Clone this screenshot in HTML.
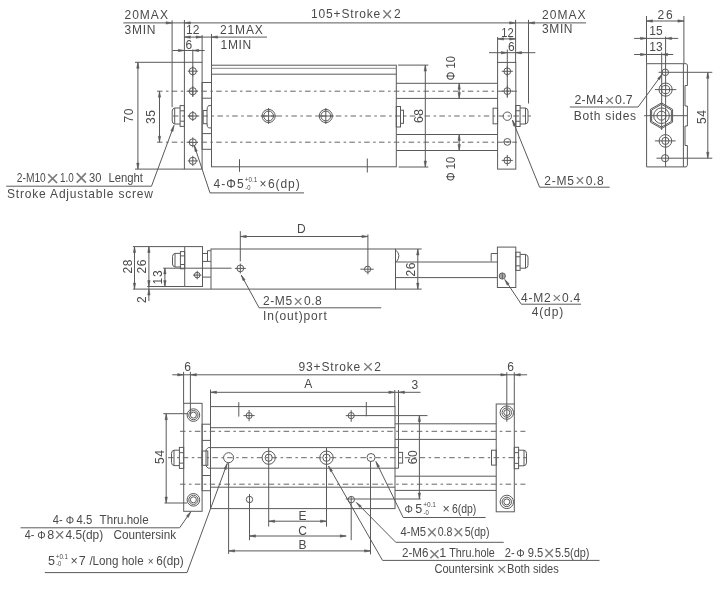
<!DOCTYPE html>
<html><head><meta charset="utf-8"><title>Drawing</title>
<style>
html,body{margin:0;padding:0;background:#fff;}
svg{display:block;will-change:transform;}
svg text{font-family:"Liberation Sans",sans-serif;}
</style></head><body>
<svg width="727" height="606" viewBox="0 0 727 606">
<rect x="0" y="0" width="727" height="606" fill="#ffffff"/>
<g fill="none" stroke="#5a5a5a" stroke-width="1">
<rect x="184.4" y="62.3" width="17.7" height="106.8"/>
<rect x="211.5" y="65.2" width="184.8" height="101.6"/>
<line x1="211.5" y1="68.3" x2="396.3" y2="68.3" stroke="#8a8a8a"/>
<line x1="211.5" y1="74.2" x2="396.3" y2="74.2"/>
<rect x="202.1" y="82.5" width="9.4" height="66.8"/>
<line x1="202.1" y1="98.2" x2="211.5" y2="98.2"/>
<line x1="202.1" y1="133.6" x2="211.5" y2="133.6"/>
<rect x="203.2" y="110.5" width="3.8" height="13.2"/>
<path d="M211.5 105.6 L208.5 105.6 Q207 107 207 110.5 M207 123.7 Q207 127 208.5 127.9 L211.5 127.9"/>
<rect x="180.1" y="105.6" width="4.3" height="20.8"/>
<line x1="180.1" y1="110.8" x2="184.4" y2="110.8"/>
<line x1="180.1" y1="121.2" x2="184.4" y2="121.2"/>
<path d="M180.1 108 L174.7 108"/>
<path d="M180.1 124 L174.7 124"/>
<line x1="174.7" y1="108" x2="174.7" y2="124"/>
<path d="M174.7 108 Q172.2 108.5 172.2 111 L172.2 121 Q172.2 123.5 174.7 124"/>
<circle cx="192.8" cy="71.2" r="3.6"/>
<line x1="187.8" y1="71.2" x2="197.8" y2="71.2"/>
<line x1="192.8" y1="66.2" x2="192.8" y2="76.2"/>
<circle cx="192.8" cy="91.2" r="3.6"/>
<line x1="187.8" y1="91.2" x2="197.8" y2="91.2"/>
<line x1="192.8" y1="86.2" x2="192.8" y2="96.2"/>
<circle cx="192.8" cy="116" r="3.6"/>
<line x1="187.8" y1="116" x2="197.8" y2="116"/>
<line x1="192.8" y1="111" x2="192.8" y2="121"/>
<circle cx="192.8" cy="142.4" r="3.6"/>
<line x1="187.8" y1="142.4" x2="197.8" y2="142.4"/>
<line x1="192.8" y1="137.4" x2="192.8" y2="147.4"/>
<circle cx="192.8" cy="160.9" r="3.6"/>
<line x1="187.8" y1="160.9" x2="197.8" y2="160.9"/>
<line x1="192.8" y1="155.9" x2="192.8" y2="165.9"/>
<line x1="192.8" y1="49.5" x2="192.8" y2="97"/>
<line x1="157" y1="91.2" x2="517" y2="91.2" stroke="#666666" stroke-dasharray="5.5 3.5 2.5 3.3"/>
<line x1="173" y1="116" x2="531" y2="116" stroke="#666666" stroke-dasharray="5.5 3.5 2.5 3.3"/>
<line x1="157" y1="142.2" x2="517" y2="142.2" stroke="#666666" stroke-dasharray="5.5 3.5 2.5 3.3"/>
<circle cx="268.6" cy="116" r="6.6"/>
<circle cx="268.6" cy="116" r="4.9"/>
<line x1="260.6" y1="116" x2="276.6" y2="116"/>
<line x1="268.6" y1="108" x2="268.6" y2="124"/>
<circle cx="325.8" cy="116" r="6.6"/>
<circle cx="325.8" cy="116" r="4.9"/>
<line x1="317.8" y1="116" x2="333.8" y2="116"/>
<line x1="325.8" y1="108" x2="325.8" y2="124"/>
<line x1="239.5" y1="159.2" x2="239.5" y2="171.8"/>
<line x1="367.3" y1="158.5" x2="367.3" y2="172.5"/>
<line x1="396.3" y1="83.3" x2="497.6" y2="83.3"/>
<line x1="396.3" y1="98.4" x2="497.6" y2="98.4"/>
<line x1="396.3" y1="134.5" x2="497.6" y2="134.5"/>
<line x1="396.3" y1="150.5" x2="497.6" y2="150.5"/>
<rect x="396.3" y="106.5" width="4.2" height="20.5"/>
<rect x="400.5" y="110.2" width="3" height="13.1"/>
<rect x="497.6" y="62.4" width="18.2" height="106.7"/>
<rect x="493.1" y="108.2" width="4.5" height="15.6"/>
<rect x="515.8" y="105.5" width="4.3" height="21"/>
<line x1="515.8" y1="110.75" x2="520.1" y2="110.75"/>
<line x1="515.8" y1="121.25" x2="520.1" y2="121.25"/>
<path d="M520.1 108 L525.5 108"/>
<path d="M520.1 124 L525.5 124"/>
<line x1="525.5" y1="108" x2="525.5" y2="124"/>
<path d="M525.5 108 Q528 108.5 528 111 L528 121 Q528 123.5 525.5 124"/>
<circle cx="507.3" cy="71.3" r="3.4"/>
<line x1="501.8" y1="71.3" x2="512.8" y2="71.3"/>
<line x1="507.3" y1="65.8" x2="507.3" y2="76.8"/>
<circle cx="507.3" cy="91.1" r="3.4"/>
<line x1="501.8" y1="91.1" x2="512.8" y2="91.1"/>
<line x1="507.3" y1="85.6" x2="507.3" y2="96.6"/>
<circle cx="507.3" cy="116.2" r="4.2"/>
<circle cx="507.3" cy="141.9" r="3.4"/>
<line x1="503.3" y1="141.9" x2="511.3" y2="141.9"/>
<circle cx="507.3" cy="160.4" r="3.4"/>
<line x1="501.8" y1="160.4" x2="512.8" y2="160.4"/>
<line x1="507.3" y1="154.9" x2="507.3" y2="165.9"/>
<line x1="507.3" y1="49.5" x2="507.3" y2="97.8"/>
<line x1="398" y1="65.1" x2="428.3" y2="65.1"/>
<line x1="398.6" y1="167" x2="428.3" y2="167"/>
<line x1="425.3" y1="65.1" x2="425.3" y2="167"/>
<path d="M425.3 65.1 L426.5 71.1 L424.1 71.1Z" fill="#5a5a5a" stroke-width="0.5"/>
<path d="M425.3 167 L424.1 161 L426.5 161Z" fill="#5a5a5a" stroke-width="0.5"/>
<line x1="459.2" y1="83.3" x2="459.2" y2="98.4"/>
<path d="M459.2 83.3 L460.4 89.3 L458 89.3Z" fill="#5a5a5a" stroke-width="0.5"/>
<path d="M459.2 98.4 L458 92.4 L460.4 92.4Z" fill="#5a5a5a" stroke-width="0.5"/>
<line x1="459.2" y1="134.5" x2="459.2" y2="150.5"/>
<path d="M459.2 134.5 L460.4 140.5 L458 140.5Z" fill="#5a5a5a" stroke-width="0.5"/>
<path d="M459.2 150.5 L458 144.5 L460.4 144.5Z" fill="#5a5a5a" stroke-width="0.5"/>
<line x1="123.3" y1="22.9" x2="586" y2="22.9"/>
<path d="M172.1 22.9 L166.1 24.1 L166.1 21.7Z" fill="#5a5a5a" stroke-width="0.5"/>
<path d="M184.4 22.9 L190.4 21.7 L190.4 24.1Z" fill="#5a5a5a" stroke-width="0.5"/>
<path d="M515.6 22.9 L509.6 24.1 L509.6 21.7Z" fill="#5a5a5a" stroke-width="0.5"/>
<path d="M528.5 22.9 L534.5 21.7 L534.5 24.1Z" fill="#5a5a5a" stroke-width="0.5"/>
<line x1="172.1" y1="20.3" x2="172.1" y2="107.2"/>
<line x1="184.4" y1="20" x2="184.4" y2="62.3"/>
<line x1="515.6" y1="19.8" x2="515.6" y2="62.4"/>
<line x1="528.5" y1="19.8" x2="528.5" y2="103.5"/>
<line x1="184.4" y1="37.1" x2="267" y2="37.1"/>
<path d="M184.4 37.1 L190.4 35.9 L190.4 38.3Z" fill="#5a5a5a" stroke-width="0.5"/>
<path d="M202.1 37.1 L196.1 38.3 L196.1 35.9Z" fill="#5a5a5a" stroke-width="0.5"/>
<path d="M211.5 37.1 L217.5 35.9 L217.5 38.3Z" fill="#5a5a5a" stroke-width="0.5"/>
<line x1="202.1" y1="35" x2="202.1" y2="62.3"/>
<line x1="211.5" y1="34" x2="211.5" y2="65.2"/>
<line x1="172.6" y1="50.5" x2="204.6" y2="50.5"/>
<path d="M184.4 50.5 L178.4 51.7 L178.4 49.3Z" fill="#5a5a5a" stroke-width="0.5"/>
<path d="M192.8 50.5 L198.8 49.3 L198.8 51.7Z" fill="#5a5a5a" stroke-width="0.5"/>
<line x1="497.6" y1="38.9" x2="515.6" y2="38.9"/>
<path d="M497.6 38.9 L503.6 37.7 L503.6 40.1Z" fill="#5a5a5a" stroke-width="0.5"/>
<path d="M515.6 38.9 L509.6 40.1 L509.6 37.7Z" fill="#5a5a5a" stroke-width="0.5"/>
<line x1="497.6" y1="37" x2="497.6" y2="62.4"/>
<line x1="489" y1="52.7" x2="535.4" y2="52.7"/>
<path d="M507.3 52.7 L501.3 53.9 L501.3 51.5Z" fill="#5a5a5a" stroke-width="0.5"/>
<path d="M515.6 52.7 L521.6 51.5 L521.6 53.9Z" fill="#5a5a5a" stroke-width="0.5"/>
<line x1="135" y1="62.3" x2="184.4" y2="62.3"/>
<line x1="135" y1="169.1" x2="184.4" y2="169.1"/>
<line x1="137.9" y1="62.3" x2="137.9" y2="169.1"/>
<path d="M137.9 62.3 L139.1 68.3 L136.7 68.3Z" fill="#5a5a5a" stroke-width="0.5"/>
<path d="M137.9 169.1 L136.7 163.1 L139.1 163.1Z" fill="#5a5a5a" stroke-width="0.5"/>
<line x1="159.5" y1="91.2" x2="159.5" y2="142.2"/>
<path d="M159.5 91.2 L160.7 97.2 L158.3 97.2Z" fill="#5a5a5a" stroke-width="0.5"/>
<path d="M159.5 142.2 L158.3 136.2 L160.7 136.2Z" fill="#5a5a5a" stroke-width="0.5"/>
<line x1="512.4" y1="120" x2="539.6" y2="187.2"/>
<line x1="539.6" y1="187.2" x2="609.7" y2="187.2"/>
<path d="M512.4 120 L515.76 125.11 L513.54 126.01Z" fill="#5a5a5a" stroke-width="0.5"/>
<line x1="194.3" y1="145.6" x2="210" y2="192.9"/>
<line x1="210" y1="192.9" x2="304" y2="192.9"/>
<path d="M194.3 145.6 L197.33 150.92 L195.05 151.67Z" fill="#5a5a5a" stroke-width="0.5"/>
<line x1="174" y1="125.4" x2="151.5" y2="186.2"/>
<line x1="151.5" y1="186.2" x2="6.2" y2="186.2"/>
<path d="M174 125.4 L173.04 131.44 L170.79 130.61Z" fill="#5a5a5a" stroke-width="0.5"/>
<path d="M683.4 63.7 L646.6 63.7 L646.6 166.9 L686.4 166.9"/>
<line x1="683.4" y1="63.7" x2="683.4" y2="166.9"/>
<path d="M683.4 63.7 L686.4 63.7 L687.4 65 L687.4 85.5 L685 85.5 L685 106 L687.4 106 L687.4 126 L685 126 L685 145.5 L687.4 145.5 L687.4 165.3 L686.4 166.9"/>
<line x1="646.5" y1="21" x2="683.9" y2="21"/>
<path d="M646.5 21 L652.5 19.8 L652.5 22.2Z" fill="#5a5a5a" stroke-width="0.5"/>
<path d="M683.9 21 L677.9 22.2 L677.9 19.8Z" fill="#5a5a5a" stroke-width="0.5"/>
<line x1="646.5" y1="16" x2="646.5" y2="63.7"/>
<line x1="683.9" y1="16" x2="683.9" y2="63.7"/>
<line x1="634.1" y1="38.4" x2="678.2" y2="38.4"/>
<path d="M646.5 38.4 L640.5 39.6 L640.5 37.2Z" fill="#5a5a5a" stroke-width="0.5"/>
<path d="M665.6 38.4 L671.6 37.2 L671.6 39.6Z" fill="#5a5a5a" stroke-width="0.5"/>
<line x1="665.6" y1="36.6" x2="665.6" y2="166.9"/>
<line x1="634.1" y1="54.5" x2="673.2" y2="54.5"/>
<path d="M646.5 54.5 L640.5 55.7 L640.5 53.3Z" fill="#5a5a5a" stroke-width="0.5"/>
<path d="M661.7 54.5 L667.7 53.3 L667.7 55.7Z" fill="#5a5a5a" stroke-width="0.5"/>
<line x1="661.7" y1="52.5" x2="661.7" y2="130"/>
<circle cx="665.3" cy="72.3" r="3.3"/>
<circle cx="665.6" cy="89.6" r="6.6"/>
<circle cx="665.6" cy="89.6" r="4.1"/>
<line x1="654.9" y1="89.6" x2="676.3" y2="89.6"/>
<path d="M661.5 102.9 L672.59 109.3 L672.59 122.1 L661.5 128.5 L650.41 122.1 L650.41 109.3Z"/>
<path d="M661.5 104.3 L671.37 110 L671.37 121.4 L661.5 127.1 L651.63 121.4 L651.63 110Z"/>
<circle cx="661.5" cy="115.7" r="7.8"/>
<circle cx="661.5" cy="115.7" r="4.5"/>
<line x1="644.1" y1="115.7" x2="687.4" y2="115.7"/>
<circle cx="665.4" cy="140.9" r="6.3"/>
<circle cx="665.4" cy="140.9" r="3.6"/>
<line x1="654.9" y1="140.9" x2="675.6" y2="140.9"/>
<circle cx="665.1" cy="158.2" r="3.6"/>
<line x1="658.5" y1="72.3" x2="712.3" y2="72.3"/>
<line x1="656.5" y1="158.2" x2="712.3" y2="158.2"/>
<line x1="707.8" y1="72.3" x2="707.8" y2="158.2"/>
<path d="M707.8 72.3 L709 78.3 L706.6 78.3Z" fill="#5a5a5a" stroke-width="0.5"/>
<path d="M707.8 158.2 L706.6 152.2 L709 152.2Z" fill="#5a5a5a" stroke-width="0.5"/>
<line x1="662.1" y1="74.3" x2="638.1" y2="107"/>
<line x1="638.1" y1="107" x2="569.8" y2="107"/>
<path d="M662.1 74.3 L659.52 79.85 L657.58 78.43Z" fill="#5a5a5a" stroke-width="0.5"/>
<line x1="132.9" y1="246.6" x2="184.7" y2="246.6"/>
<rect x="184.7" y="246.6" width="17.8" height="39.9"/>
<line x1="134.5" y1="246.6" x2="134.5" y2="289.1"/>
<path d="M134.5 246.6 L135.7 252.6 L133.3 252.6Z" fill="#5a5a5a" stroke-width="0.5"/>
<path d="M134.5 289.1 L133.3 283.1 L135.7 283.1Z" fill="#5a5a5a" stroke-width="0.5"/>
<line x1="148.9" y1="246.6" x2="148.9" y2="301"/>
<path d="M148.9 246.6 L150.1 252.6 L147.7 252.6Z" fill="#5a5a5a" stroke-width="0.5"/>
<path d="M148.9 286.5 L147.7 280.5 L150.1 280.5Z" fill="#5a5a5a" stroke-width="0.5"/>
<path d="M148.9 289.1 L150.1 295.1 L147.7 295.1Z" fill="#5a5a5a" stroke-width="0.5"/>
<line x1="164.9" y1="268" x2="164.9" y2="286.5"/>
<path d="M164.9 268 L166.1 274 L163.7 274Z" fill="#5a5a5a" stroke-width="0.5"/>
<path d="M164.9 286.5 L163.7 280.5 L166.1 280.5Z" fill="#5a5a5a" stroke-width="0.5"/>
<line x1="163.2" y1="268.2" x2="231.5" y2="268.2"/>
<line x1="147.2" y1="286.5" x2="184.7" y2="286.5"/>
<line x1="132.9" y1="289.1" x2="210.8" y2="289.1"/>
<rect x="180.4" y="251.6" width="4.3" height="17.2"/>
<line x1="180.4" y1="255.9" x2="184.7" y2="255.9"/>
<line x1="180.4" y1="264.5" x2="184.7" y2="264.5"/>
<path d="M180.4 253.4 L175 253.4"/>
<path d="M180.4 267 L175 267"/>
<line x1="175" y1="253.4" x2="175" y2="267"/>
<path d="M175 253.4 Q172.5 253.9 172.5 256.4 L172.5 264 Q172.5 266.5 175 267"/>
<line x1="202.5" y1="253.5" x2="207.5" y2="253.5"/>
<line x1="202.5" y1="261.4" x2="210.8" y2="261.4"/>
<line x1="207.5" y1="250.7" x2="207.5" y2="261.4"/>
<line x1="207.5" y1="250.7" x2="210.8" y2="250.7"/>
<line x1="202.5" y1="277.1" x2="210.8" y2="277.1"/>
<rect x="211" y="249" width="184.5" height="40.1"/>
<circle cx="197.2" cy="275.1" r="2.8"/>
<line x1="193" y1="275.1" x2="201.4" y2="275.1"/>
<line x1="197.2" y1="270.9" x2="197.2" y2="279.3"/>
<circle cx="240.3" cy="268.4" r="3.4"/>
<line x1="240.3" y1="231.2" x2="240.3" y2="261.5"/>
<line x1="240.3" y1="263.5" x2="240.3" y2="273.5"/>
<line x1="234.9" y1="268.4" x2="245.9" y2="268.4"/>
<circle cx="367.6" cy="269.2" r="3.1"/>
<line x1="367.9" y1="234.4" x2="367.9" y2="274.3"/>
<line x1="360.4" y1="269.2" x2="373.7" y2="269.2"/>
<line x1="240.3" y1="236.5" x2="367.9" y2="236.5"/>
<path d="M240.3 236.5 L246.3 235.3 L246.3 237.7Z" fill="#5a5a5a" stroke-width="0.5"/>
<path d="M367.9 236.5 L361.9 237.7 L361.9 235.3Z" fill="#5a5a5a" stroke-width="0.5"/>
<line x1="395.5" y1="249" x2="421.7" y2="249"/>
<line x1="395.5" y1="289.1" x2="421.7" y2="289.1"/>
<line x1="417.8" y1="249" x2="417.8" y2="289.1"/>
<path d="M417.8 249 L419 255 L416.6 255Z" fill="#5a5a5a" stroke-width="0.5"/>
<path d="M417.8 289.1 L416.6 283.1 L419 283.1Z" fill="#5a5a5a" stroke-width="0.5"/>
<line x1="395.5" y1="262" x2="497.4" y2="262"/>
<line x1="395.5" y1="277.6" x2="497.4" y2="277.6"/>
<path d="M396 250.3 Q401.5 255 396.5 261.8"/>
<rect x="497.4" y="247.1" width="18.4" height="40.4"/>
<path d="M491.2 261.5 L491.2 253.5 L497.4 253.5"/>
<circle cx="502.3" cy="276" r="3.1"/>
<line x1="499.6" y1="275" x2="505" y2="275"/>
<line x1="499.6" y1="277" x2="505" y2="277"/>
<line x1="502.3" y1="272.9" x2="502.3" y2="279.1"/>
<rect x="515.8" y="252.2" width="4.3" height="18.2"/>
<line x1="515.8" y1="256.75" x2="520.1" y2="256.75"/>
<line x1="515.8" y1="265.85" x2="520.1" y2="265.85"/>
<path d="M520.1 254.4 L525.5 254.4"/>
<path d="M520.1 268.2 L525.5 268.2"/>
<line x1="525.5" y1="254.4" x2="525.5" y2="268.2"/>
<path d="M525.5 254.4 Q528 254.9 528 257.4 L528 265.2 Q528 267.7 525.5 268.2"/>
<line x1="504.8" y1="279.5" x2="521.3" y2="304.2"/>
<line x1="521.3" y1="304.2" x2="581" y2="304.2"/>
<path d="M504.8 279.5 L509.13 283.82 L507.14 285.16Z" fill="#5a5a5a" stroke-width="0.5"/>
<line x1="241.2" y1="275" x2="259.1" y2="307.8"/>
<line x1="259.1" y1="307.8" x2="381.2" y2="307.8"/>
<path d="M241.2 275 L245.13 279.69 L243.02 280.84Z" fill="#5a5a5a" stroke-width="0.5"/>
<rect x="183.7" y="403.3" width="18.4" height="108"/>
<rect x="210.5" y="406.6" width="184.5" height="102"/>
<line x1="210.5" y1="427.7" x2="395" y2="427.7"/>
<line x1="210.5" y1="487.2" x2="395" y2="487.2"/>
<path d="M398.5 447.6 L208.2 447.6 L206 449.8 L206 466 L208.2 468.2 L398.5 468.2 L398.5 447.6"/>
<rect x="398.5" y="452.4" width="4.1" height="10.7"/>
<rect x="202.1" y="424.2" width="8.4" height="66.5"/>
<line x1="202.1" y1="440.4" x2="210.5" y2="440.4"/>
<line x1="202.1" y1="475.5" x2="210.5" y2="475.5"/>
<rect x="202.1" y="451" width="5.7" height="14.3"/>
<rect x="179.4" y="447.4" width="4.3" height="21"/>
<line x1="179.4" y1="452.65" x2="183.7" y2="452.65"/>
<line x1="179.4" y1="463.15" x2="183.7" y2="463.15"/>
<path d="M179.4 450.2 L174 450.2"/>
<path d="M179.4 465.6 L174 465.6"/>
<line x1="174" y1="450.2" x2="174" y2="465.6"/>
<path d="M174 450.2 Q171.5 450.7 171.5 453.2 L171.5 462.6 Q171.5 465.1 174 465.6"/>
<circle cx="193.4" cy="415.1" r="6.3"/>
<circle cx="193.4" cy="415.1" r="4.6"/>
<circle cx="193.4" cy="415.1" r="3"/>
<circle cx="193.4" cy="499.8" r="6.3"/>
<circle cx="193.4" cy="499.8" r="4.6"/>
<circle cx="193.4" cy="499.8" r="3"/>
<line x1="180" y1="431.3" x2="525.4" y2="431.3" stroke="#666666" stroke-dasharray="5.5 3.5 2.5 3.3"/>
<line x1="168" y1="457.7" x2="526" y2="457.7" stroke="#666666" stroke-dasharray="5.5 3.5 2.5 3.3"/>
<line x1="180" y1="484.2" x2="525.4" y2="484.2" stroke="#666666" stroke-dasharray="5.5 3.5 2.5 3.3"/>
<circle cx="228.6" cy="457.7" r="5"/>
<circle cx="268.7" cy="457.7" r="6.6"/>
<circle cx="268.7" cy="457.7" r="3.6"/>
<circle cx="326.5" cy="457.7" r="6.7"/>
<circle cx="326.5" cy="457.7" r="3.7"/>
<circle cx="371" cy="457.5" r="4"/>
<circle cx="249.1" cy="415.6" r="3"/>
<line x1="243.5" y1="415.6" x2="254.7" y2="415.6"/>
<line x1="249.1" y1="410" x2="249.1" y2="421.2"/>
<circle cx="351.2" cy="415.6" r="3.1"/>
<line x1="351.2" y1="410.2" x2="351.2" y2="421.8"/>
<line x1="345.8" y1="415.6" x2="427.5" y2="415.6"/>
<circle cx="249.5" cy="499.5" r="3.2"/>
<circle cx="351.3" cy="499.6" r="3.2"/>
<line x1="345.7" y1="499" x2="420.8" y2="499"/>
<line x1="238.8" y1="402.2" x2="238.8" y2="416.6"/>
<line x1="366.3" y1="402" x2="366.3" y2="416.3"/>
<line x1="395" y1="423.8" x2="496.2" y2="423.8"/>
<line x1="395" y1="439.4" x2="496.2" y2="439.4"/>
<line x1="395" y1="476.2" x2="496.2" y2="476.2"/>
<line x1="395" y1="490.4" x2="496.2" y2="490.4"/>
<rect x="496.2" y="404" width="18.1" height="107.8"/>
<rect x="491.5" y="450.2" width="4.7" height="14.9"/>
<rect x="514.3" y="447.3" width="4.3" height="21.4"/>
<line x1="514.3" y1="452.65" x2="518.6" y2="452.65"/>
<line x1="514.3" y1="463.35" x2="518.6" y2="463.35"/>
<path d="M518.6 450.2 L524 450.2"/>
<path d="M518.6 465.8 L524 465.8"/>
<line x1="524" y1="450.2" x2="524" y2="465.8"/>
<path d="M524 450.2 Q526.5 450.7 526.5 453.2 L526.5 462.8 Q526.5 465.3 524 465.8"/>
<circle cx="506.8" cy="412.6" r="6.7"/>
<circle cx="506.8" cy="412.6" r="4.7"/>
<circle cx="506.8" cy="412.6" r="3"/>
<circle cx="506.8" cy="501.9" r="6.7"/>
<circle cx="506.8" cy="501.9" r="4.7"/>
<circle cx="506.8" cy="501.9" r="3"/>
<line x1="172.3" y1="374.8" x2="527.1" y2="374.8"/>
<path d="M183.6 374.8 L177.6 376 L177.6 373.6Z" fill="#5a5a5a" stroke-width="0.5"/>
<path d="M190.4 374.8 L196.4 373.6 L196.4 376Z" fill="#5a5a5a" stroke-width="0.5"/>
<path d="M506.8 374.8 L500.8 376 L500.8 373.6Z" fill="#5a5a5a" stroke-width="0.5"/>
<path d="M514.3 374.8 L520.3 373.6 L520.3 376Z" fill="#5a5a5a" stroke-width="0.5"/>
<line x1="183.6" y1="371.8" x2="183.6" y2="403.3"/>
<line x1="190.4" y1="371.8" x2="190.4" y2="414.4"/>
<line x1="506.8" y1="372.3" x2="506.8" y2="421.8"/>
<line x1="514.3" y1="372.3" x2="514.3" y2="404"/>
<line x1="210.5" y1="392.3" x2="420.5" y2="392.3"/>
<path d="M210.5 392.3 L216.5 391.1 L216.5 393.5Z" fill="#5a5a5a" stroke-width="0.5"/>
<path d="M394.8 392.3 L388.8 393.5 L388.8 391.1Z" fill="#5a5a5a" stroke-width="0.5"/>
<path d="M398.5 392.3 L404.5 391.1 L404.5 393.5Z" fill="#5a5a5a" stroke-width="0.5"/>
<line x1="210.5" y1="389.6" x2="210.5" y2="406.6"/>
<line x1="394.8" y1="390" x2="394.8" y2="406.9"/>
<line x1="398.5" y1="390" x2="398.5" y2="447.6"/>
<line x1="163.3" y1="413.7" x2="187.2" y2="413.7"/>
<line x1="164.5" y1="503" x2="187.2" y2="503"/>
<line x1="166.2" y1="413.7" x2="166.2" y2="503"/>
<path d="M166.2 413.7 L167.4 419.7 L165 419.7Z" fill="#5a5a5a" stroke-width="0.5"/>
<path d="M166.2 503 L165 497 L167.4 497Z" fill="#5a5a5a" stroke-width="0.5"/>
<line x1="419.4" y1="415.6" x2="419.4" y2="499"/>
<path d="M419.4 415.6 L420.6 421.6 L418.2 421.6Z" fill="#5a5a5a" stroke-width="0.5"/>
<path d="M419.4 499 L418.2 493 L420.6 493Z" fill="#5a5a5a" stroke-width="0.5"/>
<line x1="228.6" y1="462.7" x2="228.6" y2="554"/>
<line x1="268.7" y1="447.6" x2="268.7" y2="526.6"/>
<line x1="326.5" y1="447.6" x2="326.5" y2="526.6"/>
<line x1="249.5" y1="494" x2="249.5" y2="540.2"/>
<line x1="351.2" y1="496" x2="351.2" y2="540.2"/>
<line x1="370.5" y1="461.2" x2="370.5" y2="554.4"/>
<line x1="268.7" y1="521.2" x2="326.5" y2="521.2"/>
<path d="M268.7 521.2 L274.7 520 L274.7 522.4Z" fill="#5a5a5a" stroke-width="0.5"/>
<path d="M326.5 521.2 L320.5 522.4 L320.5 520Z" fill="#5a5a5a" stroke-width="0.5"/>
<line x1="249.5" y1="536" x2="346.2" y2="536"/>
<path d="M249.5 536 L255.5 534.8 L255.5 537.2Z" fill="#5a5a5a" stroke-width="0.5"/>
<path d="M346.2 536 L340.2 537.2 L340.2 534.8Z" fill="#5a5a5a" stroke-width="0.5"/>
<line x1="228.6" y1="550.9" x2="370.5" y2="550.9"/>
<path d="M228.6 550.9 L234.6 549.7 L234.6 552.1Z" fill="#5a5a5a" stroke-width="0.5"/>
<path d="M370.5 550.9 L364.5 552.1 L364.5 549.7Z" fill="#5a5a5a" stroke-width="0.5"/>
<line x1="190.8" y1="511.8" x2="179.6" y2="527.8"/>
<line x1="179.6" y1="527.8" x2="20.6" y2="527.8"/>
<path d="M190.8 511.8 L188.34 517.4 L186.38 516.03Z" fill="#5a5a5a" stroke-width="0.5"/>
<line x1="227.2" y1="463.5" x2="187" y2="572.6"/>
<line x1="187" y1="572.6" x2="44.8" y2="572.6"/>
<path d="M227.2 463.5 L226.25 469.54 L224 468.72Z" fill="#5a5a5a" stroke-width="0.5"/>
<line x1="375.9" y1="461.5" x2="403.2" y2="517.5"/>
<line x1="403.2" y1="517.5" x2="485.6" y2="517.5"/>
<path d="M375.9 461.5 L379.61 466.37 L377.45 467.42Z" fill="#5a5a5a" stroke-width="0.5"/>
<line x1="356.4" y1="502.5" x2="395.8" y2="542.3"/>
<line x1="395.8" y1="542.3" x2="503.7" y2="542.3"/>
<path d="M356.4 502.5 L361.47 505.92 L359.77 507.61Z" fill="#5a5a5a" stroke-width="0.5"/>
<line x1="328.5" y1="466" x2="382.5" y2="560.4"/>
<line x1="382.5" y1="560.4" x2="599.5" y2="560.4"/>
<path d="M328.5 466 L332.52 470.61 L330.44 471.8Z" fill="#5a5a5a" stroke-width="0.5"/>
</g>
<g fill="#4a4a4a" stroke="none">
<text x="423" y="116" font-size="12" textLength="14" lengthAdjust="spacing" transform="rotate(-90 423 116)" text-anchor="middle">68</text>
<text x="454.8" y="68.2" font-size="12" textLength="24.4" lengthAdjust="spacingAndGlyphs" transform="rotate(-90 454.8 68.2)" text-anchor="middle">Φ 10</text>
<text x="454.8" y="169" font-size="12" textLength="24.4" lengthAdjust="spacingAndGlyphs" transform="rotate(-90 454.8 169)" text-anchor="middle">Φ 10</text>
<text x="133.4" y="115.5" font-size="12" textLength="14" lengthAdjust="spacing" transform="rotate(-90 133.4 115.5)" text-anchor="middle">70</text>
<text x="154.7" y="117" font-size="12" textLength="14" lengthAdjust="spacing" transform="rotate(-90 154.7 117)" text-anchor="middle">35</text>
<text x="124.5" y="18.6" font-size="12" textLength="43.4" lengthAdjust="spacing">20MAX</text>
<text x="124.5" y="34.3" font-size="12" textLength="31" lengthAdjust="spacing">3MIN</text>
<text x="186" y="34" font-size="12" textLength="13.4" lengthAdjust="spacing">12</text>
<text x="220" y="34" font-size="12" textLength="42.8" lengthAdjust="spacing">21MAX</text>
<text x="185.6" y="48.5" font-size="12">6</text>
<text x="220.6" y="48.9" font-size="12" textLength="30.6" lengthAdjust="spacing">1MIN</text>
<text x="311" y="17.9" font-size="12" textLength="69.3" lengthAdjust="spacing">105+Stroke</text>
<text x="381.55" y="20.85" font-size="19.29" fill="#7c7c7c">×</text>
<text x="397.25" y="17.9" font-size="12" text-anchor="middle">2</text>
<text x="501.3" y="36.6" font-size="12" textLength="12.4" lengthAdjust="spacingAndGlyphs">12</text>
<text x="508" y="50.7" font-size="12">6</text>
<text x="542.1" y="19.3" font-size="12" textLength="43.3" lengthAdjust="spacing">20MAX</text>
<text x="542.1" y="33.4" font-size="12" textLength="30.4" lengthAdjust="spacing">3MIN</text>
<text x="544.2" y="184.5" font-size="12" textLength="29.7" lengthAdjust="spacing">2-M5</text>
<text x="575.2" y="186.3" font-size="16" fill="#7c7c7c">×</text>
<text x="585.7" y="184.5" font-size="12" textLength="17.9" lengthAdjust="spacing">0.8</text>
<text x="213.6" y="187.7" font-size="12" textLength="30" lengthAdjust="spacing">4-Φ5</text>
<text x="262.95" y="187.7" font-size="12" text-anchor="middle">×</text>
<text x="268" y="187.7" font-size="12" textLength="31.7" lengthAdjust="spacing">6(dp)</text>
<text x="244.8" y="181.9" font-size="6.5" textLength="12.4" lengthAdjust="spacingAndGlyphs">+0.1</text>
<text x="245.2" y="190.3" font-size="6.5" textLength="5.21" lengthAdjust="spacingAndGlyphs">-0</text>
<text x="16.8" y="181.9" font-size="12.5" textLength="29" lengthAdjust="spacingAndGlyphs">2-M10</text>
<text x="46.11" y="186.01" font-size="22.59" fill="#7c7c7c">×</text>
<text x="60.1" y="181.9" font-size="12.5" textLength="13.7" lengthAdjust="spacingAndGlyphs">1.0</text>
<text x="74.45" y="186.25" font-size="23.29" fill="#7c7c7c">×</text>
<text x="89.1" y="181.9" font-size="12.5" textLength="12.4" lengthAdjust="spacingAndGlyphs">30</text>
<text x="108.4" y="181.9" font-size="12.5" textLength="34.6" lengthAdjust="spacingAndGlyphs">Lenght</text>
<text x="7" y="198" font-size="12" textLength="146" lengthAdjust="spacing">Stroke Adjustable screw</text>
<text x="657.6" y="19" font-size="12" textLength="15" lengthAdjust="spacing">26</text>
<text x="649.2" y="35.4" font-size="12" textLength="13.5" lengthAdjust="spacing">15</text>
<text x="649.2" y="50.7" font-size="12" textLength="13.5" lengthAdjust="spacing">13</text>
<text x="705.9" y="117" font-size="12" textLength="14" lengthAdjust="spacing" transform="rotate(-90 705.9 117)" text-anchor="middle">54</text>
<text x="574.4" y="104" font-size="12.3" textLength="29.1" lengthAdjust="spacing">2-M4</text>
<text x="604.61" y="106.21" font-size="17.18" fill="#7c7c7c">×</text>
<text x="615" y="104" font-size="12.3" textLength="17.7" lengthAdjust="spacing">0.7</text>
<text x="573.7" y="119.6" font-size="12" textLength="62.4" lengthAdjust="spacing">Both sides</text>
<text x="131.6" y="266.5" font-size="12" textLength="14" lengthAdjust="spacing" transform="rotate(-90 131.6 266.5)" text-anchor="middle">28</text>
<text x="146.4" y="266.5" font-size="12" textLength="14" lengthAdjust="spacing" transform="rotate(-90 146.4 266.5)" text-anchor="middle">26</text>
<text x="162.1" y="277.4" font-size="12" textLength="14" lengthAdjust="spacing" transform="rotate(-90 162.1 277.4)" text-anchor="middle">13</text>
<text x="146.4" y="299.7" font-size="12" transform="rotate(-90 146.4 299.7)" text-anchor="middle">2</text>
<text x="297" y="233.1" font-size="12">D</text>
<text x="414.8" y="269.6" font-size="12" textLength="14" lengthAdjust="spacing" transform="rotate(-90 414.8 269.6)" text-anchor="middle">26</text>
<text x="520.9" y="301.8" font-size="12" textLength="29.9" lengthAdjust="spacing">4-M2</text>
<text x="552.14" y="303.44" font-size="15.53" fill="#7c7c7c">×</text>
<text x="562" y="301.8" font-size="12" textLength="18.3" lengthAdjust="spacing">0.4</text>
<text x="531.7" y="316.4" font-size="12" textLength="31.5" lengthAdjust="spacing">4(dp)</text>
<text x="263" y="304.7" font-size="12" textLength="29.1" lengthAdjust="spacing">2-M5</text>
<text x="293.6" y="306.5" font-size="16" fill="#7c7c7c">×</text>
<text x="303.9" y="304.7" font-size="12" textLength="17.9" lengthAdjust="spacing">0.8</text>
<text x="263" y="320" font-size="12" textLength="63.8" lengthAdjust="spacing">In(out)port</text>
<text x="184.2" y="370.5" font-size="12">6</text>
<text x="507.3" y="370.5" font-size="12">6</text>
<text x="298.5" y="370.5" font-size="12" textLength="61.8" lengthAdjust="spacing">93+Stroke</text>
<text x="362.39" y="373.29" font-size="18.82" fill="#7c7c7c">×</text>
<text x="377.65" y="370.5" font-size="12" text-anchor="middle">2</text>
<text x="304.3" y="388.4" font-size="12">A</text>
<text x="411.4" y="389.1" font-size="12">3</text>
<text x="163.6" y="457" font-size="12" textLength="14" lengthAdjust="spacing" transform="rotate(-90 163.6 457)" text-anchor="middle">54</text>
<text x="417" y="457.3" font-size="12" textLength="14" lengthAdjust="spacing" transform="rotate(-90 417 457.3)" text-anchor="middle">60</text>
<text x="298.5" y="519.7" font-size="12">E</text>
<text x="298.3" y="534.6" font-size="12">C</text>
<text x="298.5" y="548.9" font-size="12">B</text>
<text x="52.8" y="523.5" font-size="12.5" textLength="9.9" lengthAdjust="spacingAndGlyphs">4-</text>
<text x="69.9" y="523.5" font-size="10.5" text-anchor="middle">Φ</text>
<text x="76.5" y="523.5" font-size="12.5" textLength="15.7" lengthAdjust="spacingAndGlyphs">4.5</text>
<text x="99.6" y="523.5" font-size="12.5" textLength="49" lengthAdjust="spacingAndGlyphs">Thru.hole</text>
<text x="24.8" y="538.7" font-size="12.5" textLength="9.6" lengthAdjust="spacingAndGlyphs">4-</text>
<text x="41.55" y="538.7" font-size="10.5" text-anchor="middle">Φ</text>
<text x="50.85" y="538.7" font-size="12.5" text-anchor="middle">8</text>
<text x="54.48" y="541.08" font-size="17.65" fill="#7c7c7c">×</text>
<text x="65.5" y="538.7" font-size="12.5" textLength="37.7" lengthAdjust="spacingAndGlyphs">4.5(dp)</text>
<text x="113.6" y="538.7" font-size="12.5" textLength="62.4" lengthAdjust="spacingAndGlyphs">Countersink</text>
<text x="51.45" y="564.5" font-size="12.5" text-anchor="middle">5</text>
<text x="74.25" y="564.5" font-size="12.5" text-anchor="middle">×</text>
<text x="82.25" y="564.5" font-size="12.5" text-anchor="middle">7</text>
<text x="89.4" y="564.5" font-size="12.5" textLength="54.2" lengthAdjust="spacingAndGlyphs">/Long hole</text>
<text x="150.65" y="564.5" font-size="10" text-anchor="middle">×</text>
<text x="156.3" y="564.5" font-size="12.5" textLength="27.5" lengthAdjust="spacingAndGlyphs">6(dp)</text>
<text x="55.8" y="558.8" font-size="6.5" textLength="12.2" lengthAdjust="spacingAndGlyphs">+0.1</text>
<text x="56.2" y="566.2" font-size="6.5" textLength="5.12" lengthAdjust="spacingAndGlyphs">-0</text>
<text x="408.8" y="513.1" font-size="10.5" text-anchor="middle">Φ</text>
<text x="418.7" y="513.1" font-size="12.5" text-anchor="middle">5</text>
<text x="446.15" y="513.1" font-size="12.5" text-anchor="middle">×</text>
<text x="451.9" y="513.1" font-size="12.5" textLength="24.4" lengthAdjust="spacingAndGlyphs">6(dp)</text>
<text x="423.2" y="506.8" font-size="6.5" textLength="12.6" lengthAdjust="spacing">+0.1</text>
<text x="423.6" y="515" font-size="6.5" textLength="5.29" lengthAdjust="spacingAndGlyphs">-0</text>
<text x="400.4" y="535.7" font-size="12.5" textLength="25.7" lengthAdjust="spacingAndGlyphs">4-M5</text>
<text x="426.35" y="538.65" font-size="19.29" fill="#7c7c7c">×</text>
<text x="437.7" y="535.7" font-size="12.5" textLength="14.8" lengthAdjust="spacingAndGlyphs">0.8</text>
<text x="452.75" y="538.65" font-size="19.29" fill="#7c7c7c">×</text>
<text x="464.7" y="535.7" font-size="12.5" textLength="24.8" lengthAdjust="spacingAndGlyphs">5(dp)</text>
<text x="402" y="557.3" font-size="12.5" textLength="26.4" lengthAdjust="spacingAndGlyphs">2-M6</text>
<text x="428.46" y="560.66" font-size="20.47" fill="#7c7c7c">×</text>
<text x="442.65" y="557.3" font-size="12.5" text-anchor="middle">1</text>
<text x="449.2" y="557.3" font-size="12.5" textLength="45.6" lengthAdjust="spacingAndGlyphs">Thru.hole</text>
<text x="504.7" y="557.3" font-size="12.5" textLength="9.9" lengthAdjust="spacingAndGlyphs">2-</text>
<text x="520.55" y="557.3" font-size="10.5" text-anchor="middle">Φ</text>
<text x="527.8" y="557.3" font-size="12.5" textLength="15.5" lengthAdjust="spacingAndGlyphs">9.5</text>
<text x="543.55" y="560.25" font-size="19.29" fill="#7c7c7c">×</text>
<text x="554.9" y="557.3" font-size="12.5" textLength="34.6" lengthAdjust="spacingAndGlyphs">5.5(dp)</text>
<text x="434.4" y="572.7" font-size="12.5" textLength="59.4" lengthAdjust="spacingAndGlyphs">Countersink</text>
<text x="496.81" y="574.91" font-size="17.18" fill="#7c7c7c">×</text>
<text x="507" y="572.7" font-size="12.5" textLength="51.8" lengthAdjust="spacingAndGlyphs">Both sides</text>
</g>
</svg>
</body></html>
